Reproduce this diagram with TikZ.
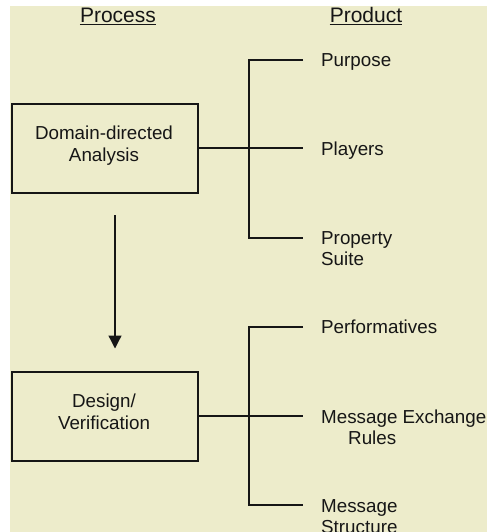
\documentclass[tikz,border=0pt]{standalone}
\usepackage{fontspec}
\setmainfont{Liberation Sans}
\usetikzlibrary{arrows.meta}
\definecolor{cream}{RGB}{237,236,203}
\definecolor{ink}{RGB}{22,22,22}
\begin{document}
\begin{tikzpicture}[x=1pt,y=-1pt,
  lbl/.style={anchor=base west, inner sep=0pt, font=\fontsize{18.8}{21.5}\selectfont, text=ink},
  ctr/.style={anchor=base, inner sep=0pt, font=\fontsize{18.8}{21.5}\selectfont, text=ink},
  head/.style={anchor=base, inner sep=0pt, font=\fontsize{21}{24}\selectfont, text=ink},
  box/.style={draw=ink, line width=1.5pt, minimum width=186pt, minimum height=89pt, inner sep=0pt},
  conn/.style={draw=ink, line width=1.3pt},
  uline/.style={draw=ink, line width=1.2pt}]
\useasboundingbox (0,0) rectangle (489,532);
\clip (0,0) rectangle (489,532);
\fill[white] (0,0) rectangle (489,532);
\fill[cream] (10,6) rectangle (487,532);

% headers
\node[head] (proc) at (118,22.7) {Process};
\node[head] (prod) at (366,22.7) {Product};
\draw[uline] ([yshift=-2pt]proc.base west) -- ([yshift=-2pt]proc.base east);
\draw[uline] ([yshift=-2pt]prod.base west) -- ([yshift=-2pt]prod.base east);

% process boxes
\node[box] (dda) at (105,148.5) {};
\node[ctr] (dda1) at (104,139.3) {Domain-directed};
\node[ctr] (dda2) at (104,161.7) {Analysis};
\node[box] (dv) at (105,416.5) {};
\node[ctr] (dv1) at (104,407.7) {Design/};
\node[ctr] (dv2) at (104,429) {Verification};

% arrow between processes
\coordinate (a1) at (115,215);
\coordinate (a2) at (115,348.5);
\draw[conn, -{Triangle[length=13pt,width=13pt]}] (a1) -- (a2);

% product labels
\node[lbl] (pur) at (321,66.5) {Purpose};
\node[lbl] (pla) at (321,155) {Players};
\node[lbl] (pro1) at (321,244) {Property};
\node[lbl] (pro2) at (321,265.5) {Suite};
\node[lbl] (per) at (321,333.5) {Performatives};
\node[lbl] (mex1) at (321,423) {Message Exchange};
\node[lbl] (mex2) at (348,444) {Rules};
\node[lbl] (mst1) at (321,512) {Message};
\node[lbl] (mst2) at (321,533.5) {Structure};

% bracket 1
\coordinate (t1) at (303,60);
\coordinate (m1) at (303,148);
\coordinate (b1) at (303,238);
\draw[conn] (t1) -- (249,60) -- (249,238) -- (b1);
\draw[conn] (dda.east |- m1) -- (m1);

% bracket 2
\coordinate (t2) at (303,327);
\coordinate (m2) at (303,416);
\coordinate (b2) at (303,505);
\draw[conn] (t2) -- (249,327) -- (249,505) -- (b2);
\draw[conn] (dv.east |- m2) -- (m2);
\end{tikzpicture}
\end{document}
